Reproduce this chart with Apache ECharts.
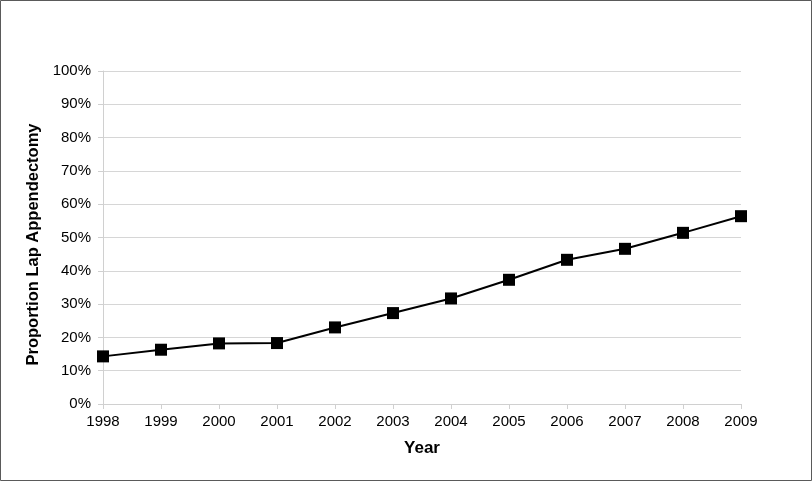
<!DOCTYPE html>
<html><head><meta charset="utf-8">
<script src="https://cdn.jsdelivr.net/npm/echarts@6/dist/echarts.min.js"></script>
<style>html,body{margin:0;padding:0;background:#fff}#c{width:812px;height:481px}</style>
</head><body><div id="c"></div>
<script>
const years = ['1998','1999','2000','2001','2002','2003','2004','2005','2006','2007','2008','2009'];
const proportion = [14.3, 16.3, 18.2, 18.3, 23.0, 27.3, 31.7, 37.3, 43.3, 46.6, 51.4, 56.4];
const yTicks = [0, 10, 20, 30, 40, 50, 60, 70, 80, 90, 100];

const chart = echarts.init(document.getElementById('c'), null, {renderer:'canvas'});
const font = 'Liberation Sans, Arial, sans-serif';
chart.setOption({
  animation: false,
  backgroundColor: '#fff',
  graphic: [{type:'rect', shape:{x:0.5,y:0.5,width:811,height:480}, style:{fill:'none', stroke:'#5a5a5a', lineWidth:1}}],
  grid: {left:103, right:71, top:71, bottom:77},
  xAxis: {
    type:'category', data: years, boundaryGap:false,
    name:'Year', nameLocation:'middle', nameGap:36,
    nameTextStyle:{fontFamily:font, fontSize:17, fontWeight:'bold', color:'#000'},
    axisLine:{lineStyle:{color:'#d0d0d0'}},
    axisTick:{show:true, length:5, lineStyle:{color:'#d0d0d0'}},
    axisLabel:{fontFamily:font, fontSize:15, color:'#000', margin:10}
  },
  yAxis: {
    type:'value', min:0, max:100, interval:10,
    name:'Proportion Lap Appendectomy', nameLocation:'middle', nameGap:58,
    nameTextStyle:{fontFamily:font, fontSize:16.5, fontWeight:'bold', color:'#000', padding:[0,14,0,0]},
    axisLine:{show:true, lineStyle:{color:'#d0d0d0'}},
    axisTick:{show:true, length:5, lineStyle:{color:'#d0d0d0'}},
    axisLabel:{fontFamily:font, fontSize:15, color:'#000', margin:12, formatter: v => yTicks.includes(v) ? v + '%' : ''},
    splitLine:{show:true, lineStyle:{color:'#d6d6d6', width:1}}
  },
  series: [{
    type:'line', data: proportion,
    symbol:'rect', symbolSize:12,
    lineStyle:{color:'#000', width:2},
    itemStyle:{color:'#000'}
  }]
});
</script></body></html>
